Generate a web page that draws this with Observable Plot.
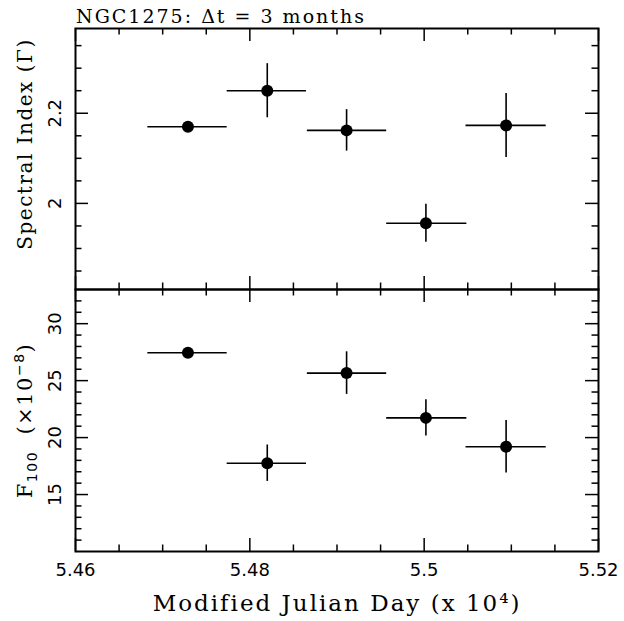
<!DOCTYPE html>
<html>
<head>
<meta charset="utf-8">
<script src="https://cdn.jsdelivr.net/npm/d3@7"></script>
<script src="https://cdn.jsdelivr.net/npm/@observablehq/plot@0.6"></script>
<style>
  body { margin: 0; background: #fff; }
  #chart { position: relative; width: 624px; height: 621px; background: #fff; }
  #chart svg { position: absolute; left: 0; }
  #title { position: absolute; left: 76px; top: 7px; font-family: "DejaVu Serif"; font-size: 19px; line-height: 19px; letter-spacing: 2px; white-space: pre; color: #000; }
</style>
</head>
<body>
<div id="chart"><div id="title"></div></div>
<script>
// ---- data ----
const titleText = "NGC1275: Δt = 3 months";
const xLabel = "Modified Julian Day (x 10⁴)";
const topYLabel = "Spectral Index (Γ)";
const bottomYLabel = "F100 (×10-8)";

const mjd      = [5.4729, 5.4820, 5.4911, 5.5002, 5.5094];
const mjdStart = [5.4683, 5.4774, 5.4866, 5.4957, 5.5048];
const mjdEnd   = [5.4774, 5.4865, 5.4957, 5.5049, 5.5140];
const gamma    = [2.170, 2.250, 2.162, 1.956, 2.173];
const gammaErr = [0.010, 0.060, 0.046, 0.042, 0.071];
const flux     = [27.45, 17.75, 25.66, 21.73, 19.20];
const fluxErr  = [0.40, 1.60, 1.87, 1.60, 2.30];

const xDomain = [5.46, 5.52];
const xMajorTicks = [5.46, 5.48, 5.50, 5.52];
const xTickLabels = ["5.46", "5.48", "5.5", "5.52"];
const xMinorTicks = [5.465, 5.47, 5.475, 5.485, 5.49, 5.495, 5.505, 5.51, 5.515];

const gammaDomain = [1.809, 2.388];
const gammaMajorTicks = [2.0, 2.2];
const gammaTickLabels = ["2", "2.2"];
const gammaMinorTicks = [1.85, 1.9, 1.95, 2.05, 2.1, 2.15, 2.25, 2.3, 2.35];

const fluxDomain = [10, 33];
const fluxMajorTicks = [15, 20, 25, 30];
const fluxTickLabels = ["15", "20", "25", "30"];
const fluxMinorTicks = [11, 12, 13, 14, 16, 17, 18, 19, 21, 22, 23, 24, 26, 27, 28, 29, 31, 32];

// ---- layout ----
const W = 624, ML = 75, MR = 26;
const frameW = W - ML - MR;
const MAJ = 13, MIN = 6.5;
const serif = "DejaVu Serif", sans = "DejaVu Sans";

const rows = mjd.map((m, i) => ({
  mjd: m, start: mjdStart[i], end: mjdEnd[i],
  g: gamma[i], gLo: gamma[i] - gammaErr[i], gHi: gamma[i] + gammaErr[i],
  f: flux[i], fLo: flux[i] - fluxErr[i], fHi: flux[i] + fluxErr[i]
}));

function tickMarks(frameH, yMaj, yMin) {
  const id = d => d;
  const sw = 1.5;
  return [
    Plot.tickX(xMajorTicks, {x: id, insetTop: frameH - MAJ, strokeWidth: sw}),
    Plot.tickX(xMajorTicks, {x: id, insetBottom: frameH - MAJ, strokeWidth: sw}),
    Plot.tickX(xMinorTicks, {x: id, insetTop: frameH - MIN, strokeWidth: sw}),
    Plot.tickX(xMinorTicks, {x: id, insetBottom: frameH - MIN, strokeWidth: sw}),
    Plot.tickY(yMaj, {y: id, insetRight: frameW - MAJ, strokeWidth: sw}),
    Plot.tickY(yMaj, {y: id, insetLeft: frameW - MAJ, strokeWidth: sw}),
    Plot.tickY(yMin, {y: id, insetRight: frameW - MIN, strokeWidth: sw}),
    Plot.tickY(yMin, {y: id, insetLeft: frameW - MIN, strokeWidth: sw})
  ];
}

function dataMarks(yKey, loKey, hiKey) {
  return [
    Plot.ruleY(rows, {y: yKey, x1: "start", x2: "end", strokeWidth: 1.6, stroke: "black"}),
    Plot.ruleX(rows, {x: "mjd", y1: loKey, y2: hiKey, strokeWidth: 1.6, stroke: "black"}),
    Plot.dot(rows, {x: "mjd", y: yKey, r: 6, fill: "black", stroke: "none"})
  ];
}

function yTickText(values, labels) {
  return Plot.text(values, {
    y: d => d, text: (d, i) => labels[i], frameAnchor: "left", dx: -20,
    rotate: -90, textAnchor: "middle", lineAnchor: "middle",
    fontSize: 18, fontFamily: sans, fill: "black"
  });
}

function spaceSerif(svg) {
  svg.querySelectorAll('g[font-family="DejaVu Serif"]').forEach(g => g.setAttribute("letter-spacing", "1.5"));
  svg.querySelectorAll("text").forEach(t => {
    if (t.textContent === xLabel) t.setAttribute("letter-spacing", "2");
    if (t.textContent === bottomYLabel) {
      // rebuild as F with subscript 100 and superscript -8
      const ns = "http://www.w3.org/2000/svg";
      const parts = [
        {s: "F"},
        {s: "100", dy: 5, fs: 14, font: "DejaVu Sans"},
        {s: "  (×10", dy: -5},
        {s: "−8", dy: -8, fs: 14, font: "DejaVu Sans"},
        {s: ")", dy: 8}
      ];
      t.textContent = "";
      for (const p of parts) {
        const sp = document.createElementNS(ns, "tspan");
        sp.textContent = p.s;
        if (p.dy) sp.setAttribute("dy", p.dy);
        if (p.fs) sp.setAttribute("font-size", p.fs);
        if (p.font) sp.setAttribute("font-family", p.font);
        t.appendChild(sp);
      }
    }
  });
  return svg;
}

// ---- top panel ----
const topH = 290, topMT = 28, topMB = 1;
const topFrameH = topH - topMT - topMB;
const topPlot = Plot.plot({
  width: W, height: topH,
  marginLeft: ML, marginRight: MR, marginTop: topMT, marginBottom: topMB,
  style: {background: "transparent", overflow: "visible"},
  x: {domain: xDomain, axis: null},
  y: {domain: gammaDomain, axis: null},
  marks: [
    ...tickMarks(topFrameH, gammaMajorTicks, gammaMinorTicks),
    ...dataMarks("g", "gLo", "gHi"),
    yTickText(gammaMajorTicks, gammaTickLabels),
    Plot.text([topYLabel], {
      text: d => d, frameAnchor: "left", dx: -50, dy: -15, rotate: -90,
      textAnchor: "middle", lineAnchor: "middle", fontSize: 20, fontFamily: serif, fill: "black"
    }),
    Plot.frame({stroke: "black", strokeWidth: 2})
  ]
});
topPlot.style.top = "0px";

// ---- bottom panel ----
const botTop = 288, botH = 621 - botTop, botMT = 1, botMB = 70;
const botFrameH = botH - botMT - botMB;
const botPlot = Plot.plot({
  width: W, height: botH,
  marginLeft: ML, marginRight: MR, marginTop: botMT, marginBottom: botMB,
  style: {background: "transparent", overflow: "visible"},
  x: {domain: xDomain, axis: null},
  y: {domain: fluxDomain, axis: null},
  marks: [
    ...tickMarks(botFrameH, fluxMajorTicks, fluxMinorTicks),
    ...dataMarks("f", "fLo", "fHi"),
    yTickText(fluxMajorTicks, fluxTickLabels),
    Plot.text(xMajorTicks, {
      x: d => d, text: (d, i) => xTickLabels[i], frameAnchor: "bottom", dy: 19,
      textAnchor: "middle", lineAnchor: "middle", fontSize: 18, fontFamily: sans, fill: "black"
    }),
    Plot.text([xLabel], {
      text: d => d, frameAnchor: "bottom", dy: 52, textAnchor: "middle", lineAnchor: "middle",
      fontSize: 23, fontFamily: serif, fill: "black"
    }),
    Plot.text([bottomYLabel], {
      text: d => d, frameAnchor: "left", dx: -50, dy: 0, rotate: -90,
      textAnchor: "middle", lineAnchor: "middle", fontSize: 21, fontFamily: serif, fill: "black"
    }),
    Plot.frame({stroke: "black", strokeWidth: 2})
  ]
});
botPlot.style.top = botTop + "px";

const chart = document.getElementById("chart");
document.getElementById("title").textContent = titleText;
chart.appendChild(spaceSerif(topPlot));
chart.appendChild(spaceSerif(botPlot));
</script>
</body>
</html>
